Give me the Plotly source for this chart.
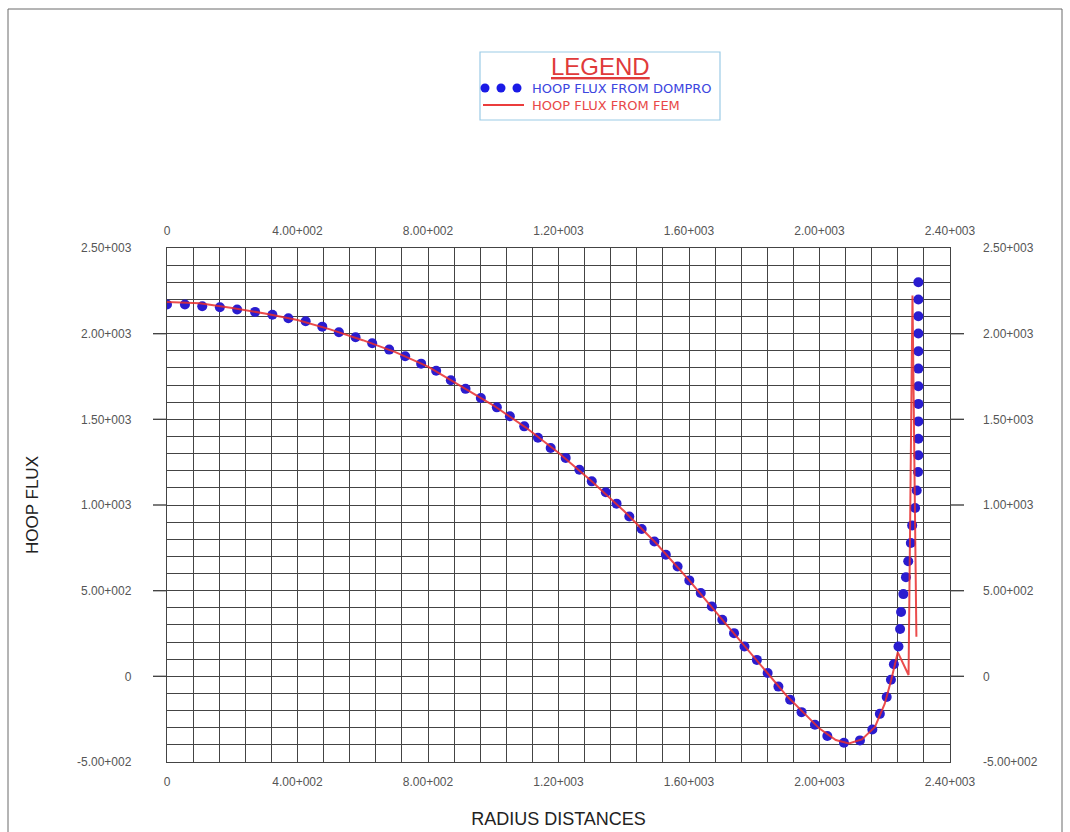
import plotly.graph_objects as go

# ---- data ----
dompro_x = [0, 55, 108, 162, 215, 270, 323, 372, 425, 476, 527, 578, 629, 681, 730, 779,
            825, 870, 915, 962, 1011, 1051, 1095, 1137, 1176, 1222, 1264, 1302, 1345, 1378,
            1417, 1455, 1494, 1529, 1565, 1601, 1636, 1670, 1702, 1738, 1770, 1808, 1841,
            1874, 1910, 1945, 1986, 2024, 2075, 2124, 2162, 2185, 2206, 2219, 2228, 2242,
            2247, 2250, 2257, 2265, 2272, 2280, 2284, 2293, 2298, 2302, 2303, 2303, 2303,
            2303, 2303, 2303, 2303, 2303, 2303, 2303, 2303]
dompro_y = [2170, 2170, 2160, 2154, 2141, 2127, 2110, 2090, 2072, 2041, 2008, 1979, 1944,
            1907, 1868, 1825, 1784, 1728, 1678, 1625, 1570, 1518, 1459, 1393, 1333, 1275,
            1206, 1138, 1074, 1008, 933, 860, 787, 710, 641, 560, 486, 408, 330, 252, 174,
            96, 19, -60, -137, -209, -283, -348, -388, -374, -310, -219, -121, -20, 71, 174,
            276, 375, 480, 579, 672, 778, 881, 982, 1085, 1193, 1290, 1387, 1488, 1590,
            1693, 1796, 1897, 2001, 2102, 2199, 2300]

fem_x = [0, 100, 200, 300, 400, 500, 600, 700, 800, 900, 1000, 1100, 1200, 1300, 1400,
         1500, 1600, 1700, 1800, 1900, 2000, 2050, 2090, 2130, 2170, 2200, 2220, 2240,
         2273, 2285, 2297]
fem_y = [2185, 2178, 2150, 2118, 2080, 2025, 1962, 1892, 1808, 1695, 1582, 1452, 1305,
         1142, 966, 775, 562, 335, 112, -115, -305, -372, -392, -368, -295, -160, -20,
         140, 8, 2222, 231]

x_tickvals = [0, 400, 800, 1200, 1600, 2000, 2400]
x_ticktext = ["0", "4.00+002", "8.00+002", "1.20+003", "1.60+003", "2.00+003", "2.40+003"]
y_tickvals = [-500, 0, 500, 1000, 1500, 2000, 2500]
y_ticktext = ["-5.00+002", "0", "5.00+002", "1.00+003", "1.50+003", "2.00+003", "2.50+003"]
y_ext_ticks = [0, 500, 1000, 1500, 2000]

legend_title = "LEGEND"
name_dompro = "HOOP FLUX FROM DOMPRO"
name_fem = "HOOP FLUX FROM FEM"

# ---- layout geometry ----
FIG_W, FIG_H = 1070, 832
L, T, W, H = 167, 248, 783, 514
GRID = "#444444"
TICKFONT = dict(family="Liberation Sans, Arial, sans-serif", size=12, color="#555555")


def px(xp):
    return (xp - L) / W


def py(yp):
    return (T + H - yp) / H


fig = go.Figure()
fig.add_trace(go.Scatter(x=dompro_x, y=dompro_y, mode="markers", name=name_dompro,
                         marker=dict(color="#2a1ccf", size=10, line=dict(width=0)),
                         showlegend=False, hoverinfo="x+y"))
fig.add_trace(go.Scatter(x=fem_x, y=fem_y, mode="lines", name=name_fem,
                         line=dict(color="rgba(232,45,45,0.85)", width=2),
                         showlegend=False, hoverinfo="x+y"))
# invisible trace to anchor the mirrored (top / right) axes
fig.add_trace(go.Scatter(x=fem_x, y=fem_y, xaxis="x2", yaxis="y2", mode="lines",
                         line=dict(width=0, color="rgba(0,0,0,0)"),
                         showlegend=False, hoverinfo="skip"))

axis_common = dict(showline=True, linecolor=GRID, linewidth=1.4, mirror=True,
                   gridcolor=GRID, gridwidth=1.4, zeroline=False, ticks="",
                   tickfont=TICKFONT, automargin=False)

fig.update_layout(
    width=FIG_W, height=FIG_H,
    margin=dict(l=L, r=FIG_W - L - W, t=T, b=FIG_H - T - H),
    paper_bgcolor="white", plot_bgcolor="white",
    showlegend=False,
    xaxis=dict(range=[0, 2400], tickmode="array", tickvals=x_tickvals, ticktext=x_ticktext,
               minor=dict(dtick=80, tick0=0, showgrid=True, gridcolor=GRID, gridwidth=1.4),
               ticklabelstandoff=8,
               title=dict(text="RADIUS DISTANCES", standoff=24,
                          font=dict(family="Liberation Sans, Arial, sans-serif", size=18, color="#222222")),
               **axis_common),
    yaxis=dict(range=[-500, 2500], tickmode="array", tickvals=y_tickvals, ticktext=y_ticktext,
               minor=dict(dtick=100, tick0=0, showgrid=True, gridcolor=GRID, gridwidth=1.4),
               ticklabelstandoff=32,
               title=dict(text="HOOP FLUX", standoff=34,
                          font=dict(family="Liberation Sans, Arial, sans-serif", size=17, color="#222222")),
               **axis_common),
    xaxis2=dict(range=[0, 2400], overlaying="x", side="top", anchor="y2",
                tickmode="array", tickvals=x_tickvals, ticktext=x_ticktext,
                showgrid=False, showline=False, zeroline=False, ticks="",
                ticklabelstandoff=10, tickfont=TICKFONT, automargin=False),
    yaxis2=dict(range=[-500, 2500], overlaying="y", side="right", anchor="x2",
                tickmode="array", tickvals=y_tickvals, ticktext=y_ticktext,
                showgrid=False, showline=False, zeroline=False, ticks="",
                ticklabelstandoff=32, tickfont=TICKFONT, automargin=False),
)

shapes = []
# page border
shapes.append(dict(type="rect", xref="paper", yref="paper", x0=px(8), x1=px(1062),
                   y0=py(845), y1=py(9), line=dict(color="#6a6a6a", width=1), layer="below"))
# major y tick extensions outside the plot on both sides
for v in y_ext_ticks:
    shapes.append(dict(type="line", xref="paper", yref="y", x0=px(153), x1=0, y0=v, y1=v,
                       line=dict(color=GRID, width=1.4)))
    shapes.append(dict(type="line", xref="paper", yref="y", x0=1, x1=px(964), y0=v, y1=v,
                       line=dict(color=GRID, width=1.4)))
# legend box
shapes.append(dict(type="rect", xref="paper", yref="paper", x0=px(480), x1=px(720),
                   y0=py(120), y1=py(52), line=dict(color="#9ccbe6", width=1.2),
                   fillcolor="white"))
# legend dotted sample
for cx in (485, 501, 517):
    shapes.append(dict(type="circle", xref="paper", yref="paper",
                       xsizemode="pixel", ysizemode="pixel",
                       xanchor=px(cx), yanchor=py(88), x0=-4.5, x1=4.5, y0=-4.5, y1=4.5,
                       fillcolor="#1a1ae6", line=dict(width=0)))
# legend red line sample
shapes.append(dict(type="line", xref="paper", yref="paper", x0=px(483), x1=px(524),
                   y0=py(105), y1=py(105), line=dict(color="#eb3c3c", width=2)))
fig.update_layout(shapes=shapes)

fig.add_annotation(x=px(600), y=py(67), xref="paper", yref="paper", text=legend_title,
                   showarrow=False, xanchor="center", yanchor="middle",
                   font=dict(family="Liberation Sans, Arial, sans-serif", size=24,
                             color="#e03a3a", lineposition="under"))
fig.add_annotation(x=px(530), y=py(88), xref="paper", yref="paper", text=name_dompro,
                   showarrow=False, xanchor="left", yanchor="middle",
                   font=dict(family="DejaVu Sans, sans-serif", size=13, color="#3c46e0"))
fig.add_annotation(x=px(530), y=py(105), xref="paper", yref="paper", text=name_fem,
                   showarrow=False, xanchor="left", yanchor="middle",
                   font=dict(family="DejaVu Sans, sans-serif", size=13, color="#e84848"))

fig.write_html("out.html")
